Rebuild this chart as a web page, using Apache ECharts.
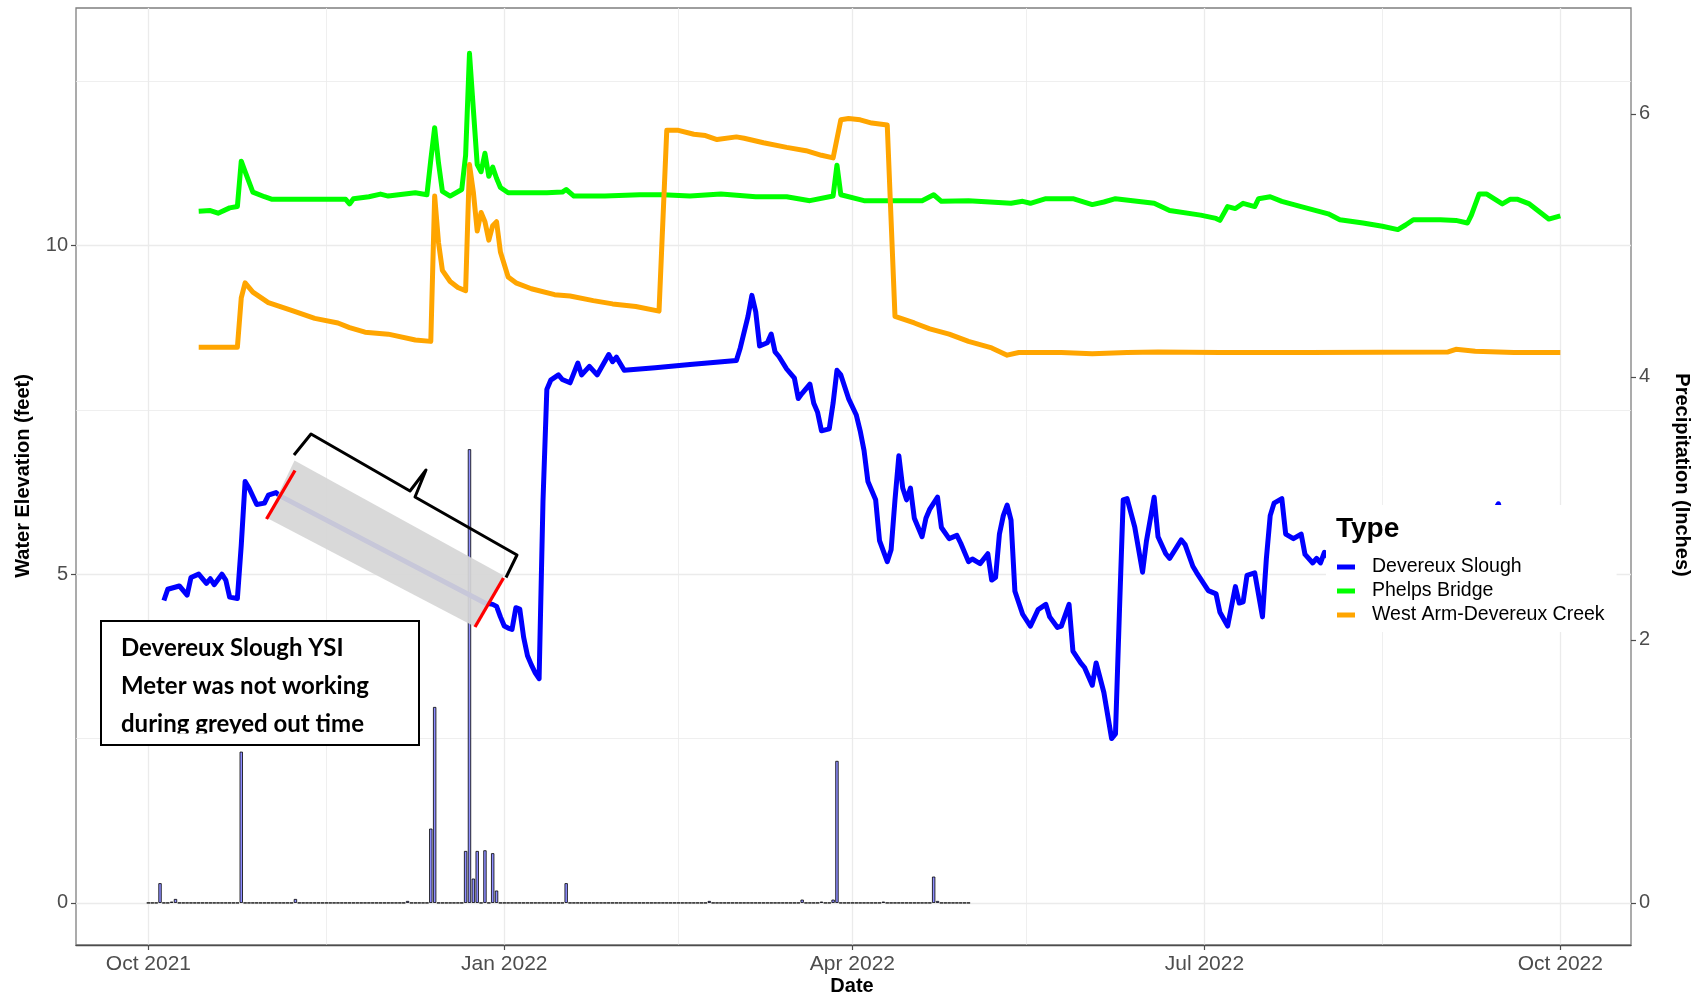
<!DOCTYPE html>
<html>
<head>
<meta charset="utf-8">
<script src="https://cdn.jsdelivr.net/npm/echarts@6/dist/echarts.min.js"></script>
<style>html,body{margin:0;padding:0;background:#fff}#c{width:1707px;height:997px}</style>
</head>
<body>
<div id="c"></div>
<script>
// ---------------- DATA ----------------
// x values: day of the water year (day 0 = 2021-10-01)
const WATER_YEAR_START = [2021, 9, 1];
const MONTH_NAMES = ['Jan','Feb','Mar','Apr','May','Jun','Jul','Aug','Sep','Oct','Nov','Dec'];
const seriesNames = ['Devereux Slough', 'Phelps Bridge', 'West Arm-Devereux Creek'];

// Devereux Slough water elevation (feet) [day, ft]
const devereuxSlough = [
 [4,4.60],[5,4.77],[8,4.82],[10,4.68],[11,4.95],[13,5.00],[15,4.86],[16,4.93],[17,4.84],[19,5.00],[20,4.91],[21,4.65],[23,4.63],[24,5.44],[25,6.41],[26,6.31],[28,6.06],[30,6.08],[31,6.20],[33,6.24],[34,6.19],
 [87,4.56],[89,4.54],[90,4.51],[91,4.35],[92,4.21],[93,4.18],[94,4.16],[95,4.49],[96,4.47],[97,4.04],[98,3.76],[99,3.62],[100,3.50],[101,3.41],[102,6.10],[103,7.81],[104,7.95],[106,8.03],[107,7.96],[109,7.91],[111,8.21],[112,8.03],[114,8.16],[116,8.03],[119,8.34],[120,8.23],[121,8.30],[123,8.10],[131,8.14],[140,8.19],[152,8.25],[153,8.44],[155,8.92],[156,9.24],[157,8.99],[158,8.47],[160,8.52],[161,8.65],[162,8.38],[163,8.31],[165,8.12],[167,7.98],[168,7.67],[169,7.75],[171,7.89],[172,7.60],[173,7.46],[174,7.18],[176,7.21],[177,7.60],[178,8.10],[179,8.03],[181,7.67],[183,7.42],[184,7.18],[185,6.88],[186,6.41],[188,6.13],[189,5.51],[191,5.19],[192,5.37],[193,6.13],[194,6.80],[195,6.31],[196,6.13],[197,6.31],[198,5.85],[200,5.57],[201,5.85],[202,5.99],[204,6.17],[205,5.71],[207,5.54],[209,5.59],[210,5.47],[212,5.19],[213,5.23],[215,5.16],[217,5.31],[218,4.91],[219,4.95],[220,5.61],[221,5.89],[222,6.05],[223,5.82],[224,4.74],[226,4.39],[228,4.21],[230,4.46],[232,4.54],[233,4.35],[235,4.19],[236,4.21],[238,4.54],[239,3.83],[241,3.65],[242,3.58],[244,3.31],[245,3.65],[247,3.20],[248,2.85],[249,2.50],[250,2.57],[251,4.39],[252,6.13],[253,6.15],[255,5.71],[257,5.03],[258,5.50],[260,6.17],[261,5.57],[263,5.31],[264,5.24],[267,5.52],[268,5.45],[270,5.12],[271,5.02],[274,4.75],[276,4.70],[277,4.42],[279,4.21],[281,4.81],[282,4.56],[283,4.58],[284,4.98],[286,5.02],[288,4.35],[289,5.23],[290,5.89],[291,6.08],[293,6.15],[294,5.61],[296,5.54],[298,5.61],[299,5.30],[301,5.17],[302,5.24],[303,5.17],[304,5.33],
 [307,5.10],[311,4.80],[315,5.20],[319,4.70],[323,5.00],[327,5.40],[331,5.10],[335,4.85],[339,5.25],[343,5.60],[346,5.75],[349,6.07],[351,5.60],[355,5.10],[359,5.30],[362,4.90],[365,5.00]
];

// Phelps Bridge water elevation (feet)
const phelpsBridge = [
 [13,10.52],[16,10.53],[18,10.49],[21,10.57],[23,10.59],[24,11.28],[25,11.12],[27,10.81],[30,10.74],[32,10.70],[37,10.70],[43,10.70],[51,10.70],[52,10.63],[53,10.71],[57,10.74],[60,10.78],[62,10.75],[69,10.80],[72,10.77],[73,11.30],[74,11.79],[75,11.25],[76,10.82],[78,10.75],[81,10.85],[82,11.37],[83,12.92],[84,12.07],[85,11.23],[86,11.12],[87,11.40],[88,11.05],[89,11.19],[90,11.02],[91,10.88],[93,10.80],[103,10.80],[107,10.81],[108,10.85],[110,10.75],[118,10.75],[127,10.77],[133,10.77],[140,10.75],[148,10.78],[157,10.74],[165,10.74],[171,10.68],[177,10.75],[178,11.22],[179,10.77],[185,10.68],[197,10.68],[200,10.68],[203,10.77],[205,10.67],[212,10.68],[223,10.64],[226,10.67],[228,10.64],[232,10.71],[239,10.71],[244,10.62],[247,10.66],[250,10.71],[260,10.64],[264,10.53],[272,10.46],[276,10.41],[277,10.38],[279,10.59],[281,10.56],[283,10.64],[286,10.59],[287,10.71],[290,10.74],[293,10.67],[298,10.59],[305,10.48],[308,10.39],[314,10.34],[319,10.29],[323,10.24],[325,10.31],[327,10.39],[334,10.39],[338,10.38],[341,10.34],[342,10.46],[344,10.78],[346,10.78],[350,10.63],[352,10.70],[354,10.70],[357,10.63],[362,10.40],[365,10.45]
];

// West Arm-Devereux Creek water elevation (feet)
const westArmDevereuxCreek = [
 [13,8.45],[23,8.45],[24,9.20],[25,9.43],[27,9.29],[31,9.13],[37,9.01],[43,8.89],[49,8.82],[52,8.75],[56,8.68],[62,8.65],[69,8.56],[73,8.54],[74,10.75],[75,10.04],[76,9.62],[78,9.45],[80,9.36],[82,9.31],[83,11.23],[84,10.81],[85,10.22],[86,10.50],[87,10.36],[88,10.08],[89,10.30],[90,10.36],[91,9.90],[93,9.52],[95,9.43],[99,9.34],[105,9.25],[109,9.23],[115,9.16],[120,9.11],[126,9.07],[132,9.00],[134,11.75],[137,11.75],[141,11.69],[144,11.67],[147,11.61],[152,11.65],[154,11.63],[159,11.56],[165,11.49],[170,11.44],[174,11.37],[177,11.33],[179,11.91],[181,11.93],[184,11.91],[187,11.86],[191,11.83],[193,8.92],[198,8.82],[202,8.73],[207,8.65],[212,8.54],[218,8.44],[222,8.33],[225,8.37],[236,8.37],[244,8.35],[253,8.37],[261,8.38],[277,8.37],[300,8.37],[336,8.38],[338,8.42],[343,8.39],[353,8.37],[365,8.37]
];

// Daily precipitation (inches), one array per month, starting 2021-10-01
const precipOct2021 = [0,0,0,0.15,0,0,0.01,0.03,0,0, 0,0,0,0,0,0,0,0,0,0, 0,0,0,0,1.15,0,0,0,0,0, 0];
const precipNov2021 = [0,0,0,0,0,0,0,0.03,0,0, 0,0,0,0,0,0,0,0,0,0, 0,0,0,0,0,0,0,0,0,0];
const precipDec2021 = [0,0,0,0,0,0,0.015,0,0,0, 0,0,0.565,1.49,0,0,0,0,0,0, 0,0.395,3.45,0.185,0.395,0,0.40,0,0.378,0.094, 0];
const precipJan2022 = [0,0,0,0,0,0,0,0,0,0, 0,0,0,0,0,0,0.15,0,0,0, 0,0,0,0,0,0,0,0,0,0, 0];
const precipFeb2022 = [0,0,0,0,0,0,0,0,0,0, 0,0,0,0,0,0,0,0,0,0, 0,0,0.015,0,0,0,0,0];
const precipMar2022 = [0,0,0,0,0,0,0,0,0,0, 0,0,0,0,0,0,0,0,0.025,0, 0,0,0,0.01,0,0,0.025,1.08,0,0, 0];
const precipApr2022 = [0,0,0,0,0,0,0,0,0.01,0, 0,0,0,0,0,0,0,0,0,0, 0,0.20,0.015,0,0,0,0,0,0,0];
const precipMay2022 = [0];

// axis ticks
const elevTicks = [0, 5, 10];
const elevMinorTicks = [2.5, 7.5, 12.5];
const precipTicks = [0, 2, 4, 6];
const dateTicks = [[2021,9,1],[2022,0,1],[2022,3,1],[2022,6,1],[2022,9,1]];
const dateMinorTicks = [[2021,10,16],[2022,1,15],[2022,4,16],[2022,7,16]];

// ---------------- BUILD ----------------
const DAY = 86400000;
const t0 = new Date(WATER_YEAR_START[0], WATER_YEAR_START[1], WATER_YEAR_START[2]).getTime();
function wyDate(d) { return new Date(WATER_YEAR_START[0], WATER_YEAR_START[1], WATER_YEAR_START[2] + d).getTime(); }
function ymd(a) { return new Date(a[0], a[1], a[2]).getTime(); }
function toSeries(arr) { return arr.map(p => [wyDate(p[0]), p[1]]); }

const precipMonths = [precipOct2021, precipNov2021, precipDec2021, precipJan2022, precipFeb2022, precipMar2022, precipApr2022, precipMay2022];
const precipData = [];
let dayIdx = 0;
precipMonths.forEach(m => m.forEach(v => { precipData.push([wyDate(dayIdx), v]); dayIdx++; }));

// axis extents (padded data range)
const xMin = t0 - 18.72 * DAY;
const xMax = wyDate(365) + 18.27 * DAY;
const yLo = -0.64, yHi = 13.61;

const FONT = '"Liberation Sans", Arial, sans-serif';
const NOTE_FONT = 'bold 24px Lato, "Open Sans", sans-serif';
const GRID_COL = '#ebebeb';
const LINE_W = 5;

const chart = echarts.init(document.getElementById('c'), null, {renderer: 'canvas'});

const option = {
  animation: false,
  backgroundColor: '#fff',
  grid: { left: 76, right: 76, top: 8, bottom: 52, show: true, borderColor: '#7f7f7f', borderWidth: 1.3, backgroundColor: '#fff', containLabel: false },
  xAxis: [
    { type: 'value', min: xMin, max: xMax, scale: true,
      axisLine: { show: true, onZero: false, lineStyle: { color: '#4d4d4d', width: 1.3 } },
      axisTick: { show: true, length: 5, lineStyle: { color: '#4d4d4d', width: 1.2 }, customValues: dateTicks.map(ymd) },
      axisLabel: { customValues: dateTicks.map(ymd), fontFamily: FONT, fontSize: 21, color: '#4d4d4d', margin: 9,
        formatter: v => { const d = new Date(v); return MONTH_NAMES[d.getMonth()] + ' ' + d.getFullYear(); } },
      splitLine: { show: true, lineStyle: { color: GRID_COL, width: 1.3 } }
    },
    { type: 'value', min: xMin, max: xMax, scale: true, position: 'bottom',
      axisLine: { show: false }, axisLabel: { show: false },
      axisTick: { show: false, customValues: dateMinorTicks.map(ymd) },
      splitLine: { show: true, lineStyle: { color: GRID_COL, width: 0.8 } }
    }
  ],
  yAxis: [
    { type: 'value', min: yLo, max: yHi, position: 'left',
      axisLine: { show: false },
      axisTick: { show: true, length: 5, lineStyle: { color: '#4d4d4d', width: 1.2 }, customValues: elevTicks },
      axisLabel: { customValues: elevTicks, fontFamily: FONT, fontSize: 20, color: '#4d4d4d', margin: 8 },
      splitLine: { show: true, lineStyle: { color: GRID_COL, width: 1.3 } }
    },
    { type: 'value', min: yLo / 2, max: yHi / 2, position: 'right',
      axisLine: { show: false },
      axisTick: { show: true, length: 5, lineStyle: { color: '#4d4d4d', width: 1.2 }, customValues: precipTicks },
      axisLabel: { customValues: precipTicks, fontFamily: FONT, fontSize: 20, color: '#4d4d4d', margin: 8 },
      splitLine: { show: false }
    },
    { type: 'value', min: yLo, max: yHi, position: 'left',
      axisLine: { show: false }, axisLabel: { show: false },
      axisTick: { show: false, customValues: elevMinorTicks },
      splitLine: { show: true, lineStyle: { color: GRID_COL, width: 0.8 } }
    }
  ],
  legend: {
    data: seriesNames, orient: 'vertical', left: 1326, top: 505,
    padding: [50, 12, 5, 11], backgroundColor: '#fff',
    itemWidth: 18, itemHeight: 5, itemGap: 0, icon: 'rect',
    textStyle: { fontFamily: FONT, fontSize: 19.5, color: '#000', lineHeight: 24, padding: [0, 0, 0, 12] },
    selectedMode: false
  },
  series: [
    { name: 'Precipitation', type: 'bar', xAxisIndex: 0, yAxisIndex: 1, data: precipData, barWidth: 3.3,
      itemStyle: { color: '#8f8fff', borderColor: '#000', borderWidth: 0.8 }, z: 2 },
    { name: seriesNames[0], type: 'line', data: toSeries(devereuxSlough), showSymbol: false, symbol: 'none',
      lineStyle: { color: '#0000ff', width: LINE_W, join: 'round' }, itemStyle: { color: '#0000ff' }, z: 3 },
    { name: seriesNames[1], type: 'line', data: toSeries(phelpsBridge), showSymbol: false, symbol: 'none',
      lineStyle: { color: '#00ff00', width: LINE_W, join: 'round' }, itemStyle: { color: '#00ff00' }, z: 3 },
    { name: seriesNames[2], type: 'line', data: toSeries(westArmDevereuxCreek), showSymbol: false, symbol: 'none',
      lineStyle: { color: '#ffa500', width: LINE_W, join: 'round' }, itemStyle: { color: '#ffa500' }, z: 3 }
  ],
  graphic: [
    { type: 'text', x: 23, y: 476, rotation: Math.PI / 2, z: 50,
      style: { text: 'Water Elevation (feet)', font: 'bold 20px ' + FONT, fill: '#000', align: 'center', verticalAlign: 'middle' } },
    { type: 'text', x: 1682, y: 475, rotation: -Math.PI / 2, z: 50,
      style: { text: 'Precipitation (Inches)', font: 'bold 20px ' + FONT, fill: '#000', align: 'center', verticalAlign: 'middle' } },
    { type: 'text', x: 852, y: 986, z: 50,
      style: { text: 'Date', font: 'bold 20px ' + FONT, fill: '#000', align: 'center', verticalAlign: 'middle' } },
    { type: 'text', x: 1336, y: 529, z: 100,
      style: { text: 'Type', font: 'bold 28px ' + FONT, fill: '#000', align: 'left', verticalAlign: 'middle' } },
    { type: 'polygon', z: 20, shape: { points: [[294.5, 460.5], [503.5, 575.5], [475, 626.8], [267, 518]] },
      style: { fill: 'rgba(214,214,214,0.93)' } },
    { type: 'line', z: 21, shape: { x1: 295, y1: 470.5, x2: 266.5, y2: 519 }, style: { stroke: '#ff0000', lineWidth: 3.3 } },
    { type: 'line', z: 21, shape: { x1: 503.5, y1: 578, x2: 475, y2: 627 }, style: { stroke: '#ff0000', lineWidth: 3.3 } },
    { type: 'polyline', z: 21, shape: { points: [[294, 455], [311, 434], [410, 491], [426, 470], [415, 497], [517, 555], [506, 577.5]] },
      style: { stroke: '#000', lineWidth: 3, fill: null, lineJoin: 'round' } },
    { type: 'rect', z: 22, shape: { x: 101, y: 621, width: 318, height: 124 },
      style: { fill: '#fff', stroke: '#000', lineWidth: 2 } },
    { type: 'text', z: 23, x: 121, y: 648,
      style: { text: 'Devereux Slough YSI', font: NOTE_FONT, fill: '#000', verticalAlign: 'middle' } },
    { type: 'text', z: 23, x: 121, y: 686,
      style: { text: 'Meter was not working', font: NOTE_FONT, fill: '#000', verticalAlign: 'middle' } },
    { type: 'text', z: 23, x: 121, y: 724,
      style: { text: 'during greyed out time', font: NOTE_FONT, fill: '#000', verticalAlign: 'middle' } },
    { type: 'rect', z: 24, shape: { x: 103, y: 733.5, width: 314, height: 10 }, style: { fill: '#fff' } }
  ]
};
chart.setOption(option);
</script>
</body>
</html>
